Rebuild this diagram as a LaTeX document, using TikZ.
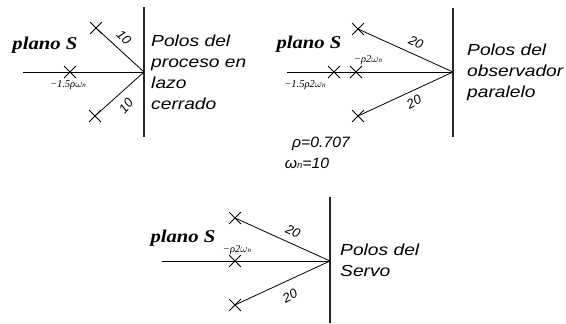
\documentclass[tikz,border=0pt]{standalone}
\usepackage{fontspec}
\setmainfont{Liberation Sans}
\newfontfamily\serifit{Liberation Serif}
\usetikzlibrary{shapes.misc}
\begin{document}
\begin{tikzpicture}[x=1pt,y=-1pt,
  pole/.style={cross out,draw,minimum size=11pt,inner sep=0pt,line width=0.8pt},
  ax/.style={line width=0.8pt},
  vax/.style={line width=1.2pt,black!85},
  desc/.style={anchor=north west,align=left,font=\fontsize{16}{21}\selectfont\itshape,inner sep=0pt,xscale=1.2},
  small/.style={font=\fontsize{10.5}{11}\selectfont\serifit\itshape,inner sep=0pt},
  gain/.style={font=\fontsize{13}{14}\selectfont\itshape,inner sep=0pt},
  plano/.style={font=\fontsize{18}{18}\selectfont\serifit\bfseries\itshape,inner sep=0pt,xscale=1.15},
  param/.style={font=\fontsize{15}{16}\selectfont\itshape,inner sep=0pt,xscale=1.05}]
\useasboundingbox (0,0) rectangle (566,324);
\newcommand{\wn}{\ensuremath{\omega}{\fontsize{7}{7}\selectfont n}}

% ---------- diagram 1 ----------
\coordinate (o1) at (144,72);
\coordinate (v1t) at (144,7);
\coordinate (v1b) at (144,137);
\coordinate (h1l) at (23,72);
\draw[ax] (h1l) -- (o1);
\draw[vax] (v1t) -- (v1b);
\node[pole] (p1u) at (96,28) {};
\node[pole] (p1r) at (70,72) {};
\node[pole] (p1d) at (95,116) {};
\draw[ax] (o1) -- (p1u.center);
\draw[ax] (o1) -- (p1d.center);
\node[small] (l1) at (68,85) {−1.5ρ\wn};
\node[gain,rotate=-45] (g1u) at (124,37) {10};
\node[gain,rotate=50] (g1d) at (126,106) {10};
\node[plano] (s1) at (45,45) {plano S};
\node[desc] (t1) at (151,35) {Polos del\\proceso en\\lazo\\cerrado};

% ---------- diagram 2 ----------
\coordinate (o2) at (453,72);
\coordinate (v2t) at (453,8);
\coordinate (v2b) at (453,137);
\coordinate (h2l) at (287,72);
\draw[ax] (h2l) -- (o2);
\draw[vax] (v2t) -- (v2b);
\node[pole] (p2u) at (358,29) {};
\node[pole] (p2a) at (334,72) {};
\node[pole] (p2b) at (356,72) {};
\node[pole] (p2d) at (358,116) {};
\draw[ax] (o2) -- (p2u.center);
\draw[ax] (o2) -- (p2d.center);
\node[small] (l2a) at (305,85) {−1.5ρ2\wn};
\node[small] (l2b) at (368,60) {−ρ2\wn};
\node[gain,rotate=-24] (g2u) at (416,42) {20};
\node[gain,rotate=28] (g2d) at (414,102) {20};
\node[plano] (s2) at (309,44) {plano S};
\node[desc] (t2) at (467,44) {Polos del\\observador\\paralelo};

% ---------- parameters ----------
\node[param] (rho) at (321,144) {ρ=0.707};
\node[param] (wn) at (307,163) {ω{\fontsize{9}{9}\selectfont n}=10};

% ---------- diagram 3 ----------
\coordinate (o3) at (330,261);
\coordinate (v3t) at (330,197);
\coordinate (v3b) at (330,323);
\coordinate (h3l) at (162,261);
\draw[ax] (h3l) -- (o3);
\draw[vax] (v3t) -- (v3b);
\node[pole] (p3u) at (235,218) {};
\node[pole] (p3r) at (235,261) {};
\node[pole] (p3d) at (235,305) {};
\draw[ax] (o3) -- (p3u.center);
\draw[ax] (o3) -- (p3d.center);
\node[small] (l3) at (237,250) {−ρ2\wn};
\node[gain,rotate=-24] (g3u) at (293,231) {20};
\node[gain,rotate=28] (g3d) at (290,296) {20};
\node[plano] (s3) at (183,238) {plano S};
\node[desc] (t3) at (340,244) {Polos del\\Servo};
\end{tikzpicture}
\end{document}
